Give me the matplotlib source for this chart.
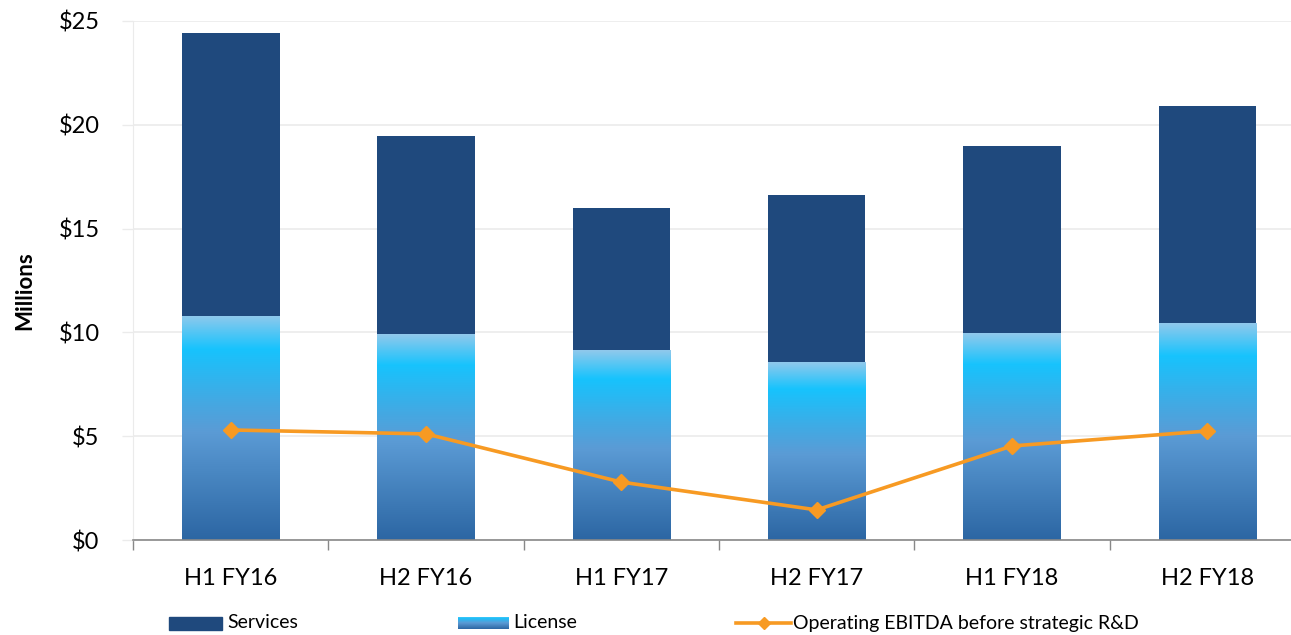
import matplotlib
matplotlib.use('Agg')
import matplotlib.pyplot as plt
import numpy as np
from matplotlib.colors import LinearSegmentedColormap
from matplotlib.patches import Rectangle
from matplotlib.lines import Line2D

periods = ['H1 FY16', 'H2 FY16', 'H1 FY17', 'H2 FY17', 'H1 FY18', 'H2 FY18']
license_rev = [10.79, 9.92, 9.15, 8.57, 9.97, 10.45]
services_rev = [13.63, 9.54, 6.84, 8.05, 9.01, 10.45]
ebitda = [5.30, 5.11, 2.79, 1.45, 4.53, 5.25]
y_ticks = [0, 5, 10, 15, 20, 25]

plt.rcParams['font.family'] = ['Lato', 'DejaVu Sans']

navy = '#1f497d'
orange = '#f79a23'
grid_col = '#ebebeb'
lic_cmap = LinearSegmentedColormap.from_list(
    'lic', [(0.0, '#2c66a3'), (0.48, '#5b9bd5'), (0.62, '#43a9e3'),
            (0.85, '#17c3fd'), (1.0, '#90c9ec')])
grad = np.linspace(0, 1, 256).reshape(-1, 1)

fig = plt.figure(figsize=(12.91, 6.35), dpi=100)
ax = fig.add_axes([133 / 1291, 95 / 635, 1172 / 1291, 519 / 635])

x = np.arange(len(periods))
lic_bars = ax.bar(x, license_rev, width=0.5, color='none', zorder=2)
ax.bar(x, services_rev, width=0.5, bottom=license_rev, color=navy, zorder=2)

# gradient fill for the license segments
for b in lic_bars:
    x0, y0 = b.get_x(), b.get_y()
    im = ax.imshow(grad, extent=[x0, x0 + b.get_width(), y0, y0 + b.get_height()],
                   origin='lower', aspect='auto', cmap=lic_cmap, zorder=2,
                   interpolation='bicubic')
    im.set_clip_path(b)

ax.plot(x, ebitda, color=orange, lw=2.6, marker='D', ms=8, zorder=4)

ax.set_xlim(-0.5, 5.5)
ax.set_ylim(0, 25)
ax.set_yticks(y_ticks)
ax.set_yticklabels(['${}'.format(v) for v in y_ticks], fontsize=17)
ax.set_xticks(x)
ax.set_xticklabels(periods, fontsize=17)
ax.set_xticks(np.arange(-0.5, 6, 1), minor=True)
ax.tick_params(axis='x', which='major', length=0, pad=20)
ax.tick_params(axis='x', which='minor', length=7, color='#888888', width=1)
ax.tick_params(axis='y', length=8, color=grid_col, width=1, pad=16)
ax.yaxis.grid(True, color=grid_col, lw=1.2, zorder=0)
ax.set_axisbelow(True)

for s in ['top', 'right']:
    ax.spines[s].set_visible(False)
ax.spines['left'].set_color(grid_col)
ax.spines['bottom'].set_color('#888888')
ax.spines['bottom'].set_linewidth(1.2)

ax.set_ylabel('Millions', fontsize=16, fontweight='bold')
ax.yaxis.set_label_coords(-0.083, 0.48)

# legend row along the bottom
ly = 1 - 623 / 635
ph = 13 / 635
fig.patches.append(Rectangle((169 / 1291, ly - ph / 2), 53 / 1291, ph,
                             transform=fig.transFigure, color=navy))
fig.text(227 / 1291, ly, 'Services', fontsize=14, va='center')
lax = fig.add_axes([458 / 1291, ly - ph / 2, 51 / 1291, ph])
lax.imshow(grad, origin='lower', aspect='auto', cmap=lic_cmap)
lax.axis('off')
fig.text(513 / 1291, ly, 'License', fontsize=14, va='center')
fig.lines.append(Line2D([736 / 1291, 791 / 1291], [ly, ly], transform=fig.transFigure,
                        color=orange, lw=2.6))
fig.lines.append(Line2D([763.5 / 1291], [ly], transform=fig.transFigure,
                        color=orange, marker='D', ms=6))
fig.text(793 / 1291, ly, 'Operating EBITDA before strategic R&D', fontsize=14, va='center')

fig.savefig('out.png', dpi=100)
